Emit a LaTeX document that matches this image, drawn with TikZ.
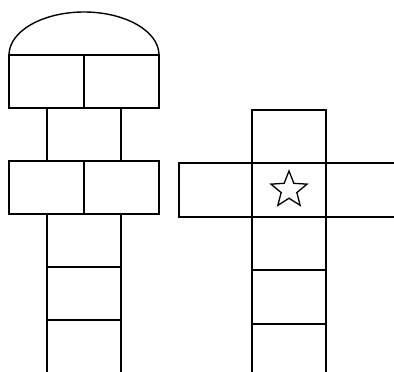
\documentclass[tikz,border=0pt]{standalone}
\usepackage{tikz}
\usetikzlibrary{shapes.geometric}

\begin{document}
\begin{tikzpicture}[x=1pt, y=-1pt,
          cell/.style={draw=black, line width=1.4pt},
          starmark/.style={star, star points=5, star point ratio=2.3,
                           minimum size=38pt, inner sep=0pt, draw=black,
                           line width=1.3pt}
        ]
        \clip (0,0) rectangle (394,372);

        % Left course: dome
        \draw[cell] (9,55) arc[start angle=180, end angle=360,
                               x radius=75, y radius=43];

        % Left course: double rows
        \draw[cell] (9,55)   rectangle (84,108);
        \draw[cell] (84,55)  rectangle (159,108);
        \draw[cell] (47,108) rectangle (121,161);
        \draw[cell] (9,161)  rectangle (84,214);
        \draw[cell] (84,161) rectangle (159,214);

        % Left course: single column
        \draw[cell] (47,214) -- (47,380);
        \draw[cell] (121,214) -- (121,380);
        \draw[cell] (47,267) -- (121,267);
        \draw[cell] (47,320) -- (121,320);

        % Right course: top cell and cross row
        \draw[cell] (252,110) rectangle (326,163);
        \draw[cell] (179,163) rectangle (252,217);
        \draw[cell] (252,163) rectangle (326,217);
        \draw[cell] (326,163) -- (400,163);
        \draw[cell] (326,217) -- (400,217);

        % Star
        \node[starmark] (goal) at (289,190) {};

        % Right course: single column
        \draw[cell] (252,217) -- (252,380);
        \draw[cell] (326,217) -- (326,380);
        \draw[cell] (252,270) -- (326,270);
        \draw[cell] (252,324) -- (326,324);
      \end{tikzpicture}
\end{document}
